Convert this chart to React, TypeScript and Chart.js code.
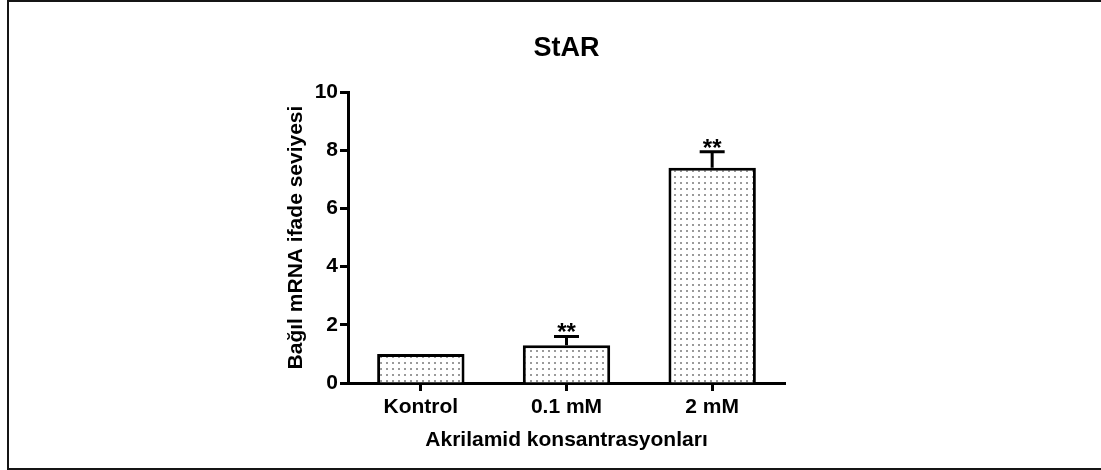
import React, { useEffect, useRef } from "react";
import { Chart, registerables } from "chart.js";

Chart.register(...registerables);

const categories = ["Kontrol", "0.1 mM", "2 mM"];
const meanValues = [1, 1.3, 7.4];
const errorValues = [0, 0.3, 0.55];
const significance = ["", "**", "**"];
const yMin = 0;
const yMax = 10;
const yStep = 2;

const FONT = "'Liberation Sans', Arial, Helvetica, sans-serif";

function makeDotPattern(): CanvasPattern | string {
  const c = document.createElement("canvas");
  c.width = 6;
  c.height = 6;
  const g = c.getContext("2d");
  if (!g) return "#fff";
  g.fillStyle = "#ffffff";
  g.fillRect(0, 0, 6, 6);
  g.fillStyle = "#9a9a9a";
  g.fillRect(2, 2, 2, 2);
  const p = g.createPattern(c, "repeat");
  return p || "#fff";
}

const framePlugin = {
  id: "frame",
  afterDraw(chart: any) {
    const ctx = chart.ctx;
    ctx.save();
    ctx.fillStyle = "#151515";
    ctx.fillRect(7, 0, 2, 470);
    ctx.fillRect(7, 0, 1094, 2);
    ctx.fillRect(7, 468, 1094, 2);
    ctx.restore();
  },
};

const errorBarPlugin = {
  id: "errorBars",
  afterDatasetsDraw(chart: any) {
    const ctx = chart.ctx;
    const meta = chart.getDatasetMeta(0);
    const yScale = chart.scales.y;
    ctx.save();
    ctx.strokeStyle = "#000";
    ctx.fillStyle = "#000";
    ctx.lineWidth = 3;
    meta.data.forEach((bar: any, i: number) => {
      const x = bar.x;
      const yBar = yScale.getPixelForValue(meanValues[i]);
      const yTop = yScale.getPixelForValue(meanValues[i] + errorValues[i]);
      if (errorValues[i] > 0) {
        ctx.beginPath();
        ctx.moveTo(x, yBar);
        ctx.lineTo(x, yTop);
        ctx.moveTo(x - 12.5, yTop);
        ctx.lineTo(x + 12.5, yTop);
        ctx.stroke();
      }
      if (significance[i]) {
        ctx.font = `bold 24px ${FONT}`;
        ctx.textAlign = "center";
        ctx.textBaseline = "alphabetic";
        ctx.fillText(significance[i], x, yTop + 4);
      }
    });
    ctx.restore();
  },
};

export default function App() {
  const ref = useRef<HTMLCanvasElement | null>(null);

  useEffect(() => {
    if (!ref.current) return;
    const chart = new Chart(ref.current, {
      type: "bar",
      data: {
        labels: categories,
        datasets: [
          {
            data: meanValues,
            backgroundColor: makeDotPattern() as any,
            borderColor: "#000",
            borderWidth: 3,
            barPercentage: 0.6,
            categoryPercentage: 1,
          },
        ],
      },
      plugins: [errorBarPlugin, framePlugin],
      options: {
        responsive: false,
        animation: false,
        devicePixelRatio: 1,
        layout: { padding: { left: 280, right: 316, top: 0, bottom: 0 } },
        plugins: {
          legend: { display: false },
          tooltip: { enabled: false },
          title: {
            display: true,
            text: "StAR",
            fullSize: false,
            color: "#000",
            font: { family: FONT, size: 27, weight: "bold", lineHeight: 1.2 },
            padding: { top: 32, bottom: 27.6 },
          },
        },
        scales: {
          x: {
            offset: true,
            grid: {
              display: true,
              drawOnChartArea: false,
              drawTicks: true,
              tickLength: 8,
              tickWidth: 3,
              tickColor: "#000",
              offset: false,
            },
            border: { display: true, color: "#000", width: 3 },
            ticks: {
              color: "#000",
              padding: 4,
              font: { family: FONT, size: 21, weight: "bold" },
            },
            title: {
              display: true,
              text: "Akrilamid konsantrasyonları",
              color: "#000",
              font: { family: FONT, size: 21, weight: "bold", lineHeight: 1.2 },
              padding: { top: 0, bottom: 17 },
            },
            afterFit(scale: any) {
              scale.height = 87;
            },
          },
          y: {
            min: yMin,
            max: yMax,
            grid: {
              display: true,
              drawOnChartArea: false,
              drawTicks: true,
              tickLength: 8,
              tickWidth: 3,
              tickColor: "#000",
            },
            border: { display: true, color: "#000", width: 3 },
            ticks: {
              stepSize: yStep,
              color: "#000",
              padding: 2,
              font: { family: FONT, size: 21, weight: "bold" },
            },
            title: {
              display: true,
              text: "Bağıl mRNA ifade seviyesi",
              color: "#000",
              font: { family: FONT, size: 21, weight: "bold", lineHeight: 1.2 },
              padding: { top: 3.5, bottom: 0 },
            },
            afterFit(scale: any) {
              scale.width = 68;
            },
          },
        },
      },
    });
    return () => chart.destroy();
  }, []);

  return (
    <div style={{ position: "absolute", left: 0, top: 0, width: 1101, height: 470, background: "#fff" }}>
      <canvas ref={ref} width={1101} height={470} style={{ width: 1101, height: 470, display: "block" }} />
    </div>
  );
}
